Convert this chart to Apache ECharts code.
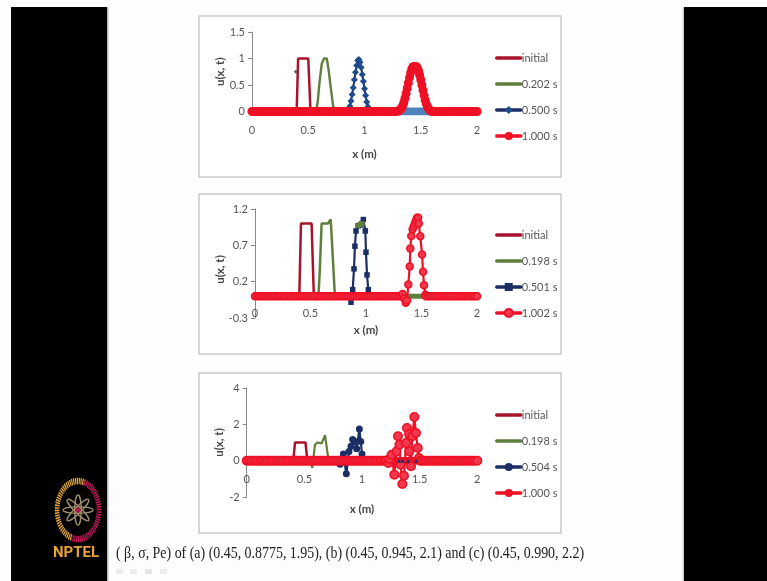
<!DOCTYPE html>
<html><head><meta charset="utf-8">
<script src="https://cdn.jsdelivr.net/npm/echarts@6/dist/echarts.min.js"></script>
<style>html,body{margin:0;padding:0;background:#fdfdfd}#c{width:767px;height:581px;filter:blur(0.45px)}</style>
</head><body><div id="c"></div>
<script>
// shared zero-level sample positions of the dense numerical solutions
const gridX=[0,0.02,0.04,0.06,0.08,0.1,0.12,0.14,0.16,0.18,0.2,0.22,0.24,0.26,0.28,0.3,0.32,0.34,0.36,0.38,0.4,0.42,0.44,0.46,0.48,0.5,0.52,0.54,0.56,0.58,0.6,0.62,0.64,0.66,0.68,0.7,0.72,0.74,0.76,0.78,0.8,0.82,0.84,0.86,0.88,0.9,0.92,0.94,0.96,0.98,1,1.02,1.04,1.06,1.08,1.1,1.12,1.14,1.16,1.18,1.2,1.22,1.24,1.26,1.28,1.3,1.32,1.34,1.36,1.38,1.4,1.42,1.44,1.46,1.48,1.5,1.52,1.54,1.56,1.58,1.6,1.62,1.64,1.66,1.68,1.7,1.72,1.74,1.76,1.78,1.8,1.82,1.84,1.86,1.88,1.9,1.92,1.94,1.96,1.98,2];

// panel (a)
const a_initX=[0,0.397,0.41,0.5,0.52,2];
const a_initY=[0,0,1,1,0,0];
const a_greenX=[0.57,0.585,0.6,0.62,0.64,0.665,0.68,0.7,0.72,0.735];
const a_greenY=[0,0.2,0.55,0.9,1,1,0.8,0.45,0.12,0];
const a_blueX=[0.85,0.86,0.87,0.88,0.89,0.9,0.91,0.92,0.93,0.94,0.95,0.96,0.97,0.98,0.99,1,1.01,1.02,1.03,1.04,1.05];
const a_blueY=[0,0.03,0.1,0.2,0.32,0.45,0.6,0.74,0.87,0.96,0.98,0.93,0.83,0.7,0.57,0.43,0.3,0.18,0.09,0.03,0];
const a_bandX=[1.32,1.58];
const a_bandY=[0,0];
const a_redX=[1.3,1.31,1.32,1.33,1.34,1.35,1.36,1.37,1.38,1.39,1.4,1.41,1.42,1.43,1.44,1.45,1.46,1.47,1.48,1.49,1.5,1.51,1.52,1.53,1.54,1.55,1.56,1.57,1.58,1.59];
const a_redY=[0.01,0.02,0.04,0.07,0.11,0.17,0.25,0.34,0.44,0.54,0.64,0.73,0.8,0.84,0.85,0.85,0.85,0.82,0.77,0.69,0.6,0.5,0.4,0.3,0.21,0.14,0.09,0.05,0.03,0.01];
const a_strayX=[0.39];
const a_strayY=[0.75];

// panel (b)
const b_initX=[0,0.399,0.414,0.51,0.53,2];
const b_initY=[0,0,1,1,0,0];
const b_greenX=[0.55,0.57,0.585,0.6,0.63,0.658,0.682,0.695,0.72];
const b_greenY=[0,-0.05,0.4,1,1,1,1.055,0.7,0];
const b_blueX=[0.855,0.865,0.88,0.892,0.9,0.91,0.93,0.95,0.965,0.976,0.994,1,1.009,1.021,1.035];
const b_blueY=[0,-0.083,0.09,0.376,0.688,0.898,0.97,0.98,1,1.055,0.898,0.605,0.293,0.09,0];
const b_markX=[0.925,0.94,0.955,0.965];
const b_markY=[0.97,0.98,0.99,1];
const b_bandX=[1.39,1.42,1.46,1.5,1.53];
const b_bandY=[0,0,0,0,0];
const b_redX=[1.33,1.345,1.358,1.37,1.381,1.394,1.399,1.408,1.42,1.43,1.44,1.45,1.46,1.47,1.475,1.489,1.505,1.514,1.523,1.535];
const b_redY=[0.03,-0.03,-0.09,-0.06,0.16,0.41,0.656,0.83,0.92,0.96,1,1.04,1.08,1.08,1.0,0.826,0.574,0.335,0.15,0.02];
const b_leftBaseX=[0,1.34];
const b_rightBaseX=[1.54,2];
const b_baseY=[0,0];

// panel (c)
const c_initX=[0,0.404,0.419,0.51,0.526,2];
const c_initY=[0,0,1,1,0,0];
const c_greenX=[0.55,0.569,0.592,0.612,0.65,0.679,0.708,0.72];
const c_greenY=[0,-0.4,0.88,1,0.95,1.4,0.1,0];
const c_blueX=[0.8,0.81,0.838,0.864,0.887,0.905,0.919,0.94,0.954,0.977,0.989,1,1.01];
const c_blueY=[0,-0.2,0.37,-0.72,0.51,0.79,1.16,1.05,0.65,1.74,1.06,0.37,0];
const c_bandX=[0,2];
const c_bandY=[0,0];
const c_redX=[1.21,1.228,1.24,1.257,1.28,1.3,1.312,1.324,1.335,1.35,1.364,1.382,1.39,1.408,1.41,1.425,1.436,1.454,1.468,1.483,1.494,1.505];
const c_redY=[0,-0.13,0.1,0.33,-0.77,0.51,1.34,0.88,-0.22,-1.28,-0.83,0.97,1.8,1.47,0.51,-0.31,1.34,2.4,1.52,0.7,0.15,0];
const c_markX=[1.32,1.35,1.4,1.47];
const c_markY=[0,0,0,0];

// labels
const a_legend=['initial','0.202 s','0.500 s','1.000 s'];
const b_legend=['initial','0.198 s','0.501 s','1.002 s'];
const c_legend=['initial','0.198 s','0.504 s','1.000 s'];
const xTicks=[0,0.5,1,1.5,2];
const a_yTicks=[0,0.5,1,1.5];
const b_yTicks=[-0.3,0.2,0.7,1.2];
const c_yTicks=[-2,0,2,4];
const caption='( β, σ, Pe) of (a) (0.45, 0.8775, 1.95), (b) (0.45, 0.945, 2.1) and (c) (0.45, 0.990, 2.2)';

const DARKRED='#A8132B',GREEN='#5F7F3C',NAVY='#1B2F66',RED='#EE1025',LB='#4F81BD',TXT='#555555',AX='#8a8a8a',FF='Lato';
const pairs=(xs,ys)=>xs.map((x,i)=>[x,ys[i]]);
function withZeros(xs,ys){
  const a=xs[0],b=xs[xs.length-1];
  return gridX.filter(x=>x<a).map(x=>[x,0]).concat(pairs(xs,ys),gridX.filter(x=>x>b).map(x=>[x,0]));
}
function line(name,idx,data,color,width,symbol,size,extra){
  const plain=symbol==='none';
  return Object.assign({type:'line',name,xAxisIndex:idx,yAxisIndex:idx,data,silent:true,animation:false,
    showSymbol:!plain,showAllSymbol:true,symbol:plain?'line':symbol,symbolSize:size,
    lineStyle:{color,width,cap:'round'},itemStyle:{color},emphasis:{disabled:true}},extra||{});
}
const hollow={itemStyle:{color:'#F2384C',borderColor:RED,borderWidth:1.5}};
const series=[
  line(a_legend[0],0,pairs(a_initX,a_initY),DARKRED,2.5,'none',0),
  line(a_legend[1],0,pairs(a_greenX,a_greenY),GREEN,2.4,'none',0),
  line(a_legend[2],0,pairs(a_blueX,a_blueY),NAVY,2,'diamond',7,{itemStyle:{color:'#1F4A8C'}}),
  line('a-band',0,pairs(a_bandX,a_bandY),LB,8,'none',0),
  line(a_legend[3],0,withZeros(a_redX,a_redY),RED,2.5,'circle',9),
  line('a-mark',0,pairs(a_strayX,a_strayY),'#555',1,'diamond',4),

  line(b_legend[0],1,pairs(b_initX,b_initY),DARKRED,2.5,'none',0),
  line(b_legend[1],1,pairs(b_greenX,b_greenY),GREEN,2.5,'none',0),
  line(b_legend[2],1,pairs(b_blueX,b_blueY),NAVY,2.2,'rect',5.5),
  line('b-mark',1,pairs(b_markX,b_markY),GREEN,2,'rect',5),
  line('b-band',1,pairs(b_bandX,b_bandY),GREEN,5,'none',0),
  line(b_legend[3],1,withZeros(b_redX,b_redY),RED,2.2,'circle',7,hollow),
  line('b-base-left',1,pairs(b_leftBaseX,b_baseY),RED,7.5,'none',0),
  line('b-base-right',1,pairs(b_rightBaseX,b_baseY),RED,7.5,'none',0),

  line(c_legend[0],2,pairs(c_initX,c_initY),DARKRED,2.5,'none',0),
  line(c_legend[1],2,pairs(c_greenX,c_greenY),GREEN,2.2,'none',0),
  line(c_legend[2],2,pairs(c_blueX,c_blueY),NAVY,2.2,'circle',7),
  line(c_legend[3],2,withZeros(c_redX,c_redY),RED,2.2,'circle',8.5,hollow),
  line('c-band',2,pairs(c_bandX,c_bandY),RED,7.5,'none',0),
  line('c-mark',2,pairs(c_markX,c_markY),NAVY,0,'triangle',4),
];
function grid(l,w,t,h){return {left:l,width:w,top:t,height:h,containLabel:false};}
function xAx(idx,gap,offset){return {type:'value',gridIndex:idx,min:0,max:2,interval:0.5,offset,name:'x (m)',nameLocation:'middle',nameGap:gap,nameMoveOverlap:false,
  nameTextStyle:{fontFamily:FF,fontWeight:'bold',fontSize:11.5,color:'#444'},
  axisLine:{onZero:false,lineStyle:{color:AX}},axisTick:{show:false},splitLine:{show:false},
  axisLabel:{margin:13,fontFamily:FF,fontSize:11,color:TXT,customValues:xTicks,showMinLabel:true,showMaxLabel:true}};}
function yAx(idx,min,max,ticks,gap,pad){return {type:'value',gridIndex:idx,min,max,name:'u(x, t)',nameLocation:'middle',nameGap:gap,nameMoveOverlap:false,
  nameTextStyle:{fontFamily:FF,fontWeight:'bold',fontSize:11.5,color:'#444',padding:pad},
  axisLine:{show:true,onZero:false,lineStyle:{color:AX}},axisTick:{show:true,length:4,inside:false,lineStyle:{color:AX},customValues:ticks},
  splitLine:{show:false},axisLabel:{margin:7,fontFamily:FF,fontSize:11,color:TXT,customValues:ticks,showMinLabel:true,showMaxLabel:true}};}
function legend(names,top){return {data:names,left:495,top,orient:'vertical',itemWidth:24,itemHeight:10,itemGap:15,padding:0,selectedMode:false,
  lineStyle:{width:3.5},
  textStyle:{fontFamily:FF,fontSize:11,color:TXT,padding:[0,0,0,-4]}};}
function box(x,y,w,h){return {type:'rect',silent:true,z:-10,shape:{x,y,width:w,height:h},style:{fill:'#fff',stroke:'#c9c9c9',lineWidth:1.5}};}
function solid(x,y,w,h,c){return {type:'rect',silent:true,z:-20,shape:{x,y,width:w,height:h},style:{fill:c}};}
const cx=78,cy=510;
const petals=[0,45,90,135].map(a=>({type:'ellipse',silent:true,z:5,x:cx,y:cy,rotation:a*Math.PI/180,shape:{cx:0,cy:0,rx:3.2,ry:15},style:{fill:'transparent',stroke:'#A08E6C',lineWidth:1.3}}));
const graphics=[
  solid(11,7,96,574,'#000'),solid(684,7,83,574,'#000'),solid(107,7,1.5,574,'#bdbdbd'),solid(682.5,7,1.5,574,'#cfcfcf'),
  box(199,16,362,161),box(199,194,362,160),box(199,373,362,160),
  {type:'arc',silent:true,z:5,x:cx,y:cy,scaleX:0.72,shape:{cx:0,cy:0,r:29,startAngle:Math.PI*0.6,endAngle:Math.PI*1.6},style:{fill:'none',stroke:'#E3A63C',lineWidth:6.5,lineDash:[1.6,0.9]}},
  {type:'arc',silent:true,z:5,x:cx,y:cy,scaleX:0.72,shape:{cx:0,cy:0,r:29,startAngle:Math.PI*1.6,endAngle:Math.PI*2.6},style:{fill:'none',stroke:'#C2185B',lineWidth:6.5,lineDash:[1.6,0.9]}},
  ...petals,
  {type:'circle',silent:true,z:6,shape:{cx,cy,r:2.5},style:{fill:'#B0184E'}},
  {type:'text',silent:true,z:6,x:53,y:546,style:{text:'NPTEL',fontFamily:'Roboto',fontWeight:'bold',fontSize:15,fill:'#E8A23A',textAlign:'left'}},
  {type:'text',silent:true,z:6,x:116,y:546,scaleX:0.87,style:{text:caption,fontFamily:'Liberation Serif',fontSize:16,fill:'#222',textAlign:'left'}},
  solid(116,569,7,5,'#ececec'),solid(130,569,7,5,'#ececec'),solid(145,569,7,5,'#e6e6e6'),solid(160,569,7,5,'#ececec')
];
const option={backgroundColor:'#fdfdfd',animation:false,
  grid:[grid(252,225,32,79.5),grid(255,222,209,109),grid(246.7,230.6,388,109)],
  xAxis:[xAx(0,37,0),xAx(1,29,-23),xAx(2,42,-36)],
  yAxis:[yAx(0,0,1.5,a_yTicks,26,0),yAx(1,-0.3,1.2,b_yTicks,29,[0,12,0,0]),yAx(2,-2,4,c_yTicks,21,0)],
  legend:[legend(a_legend,52.5),legend(b_legend,229.5),legend(c_legend,409.5)],
  series,graphic:{elements:graphics}};
const chart=echarts.init(document.getElementById('c'),null,{renderer:'canvas'});
chart.setOption(option);
</script></body></html>
